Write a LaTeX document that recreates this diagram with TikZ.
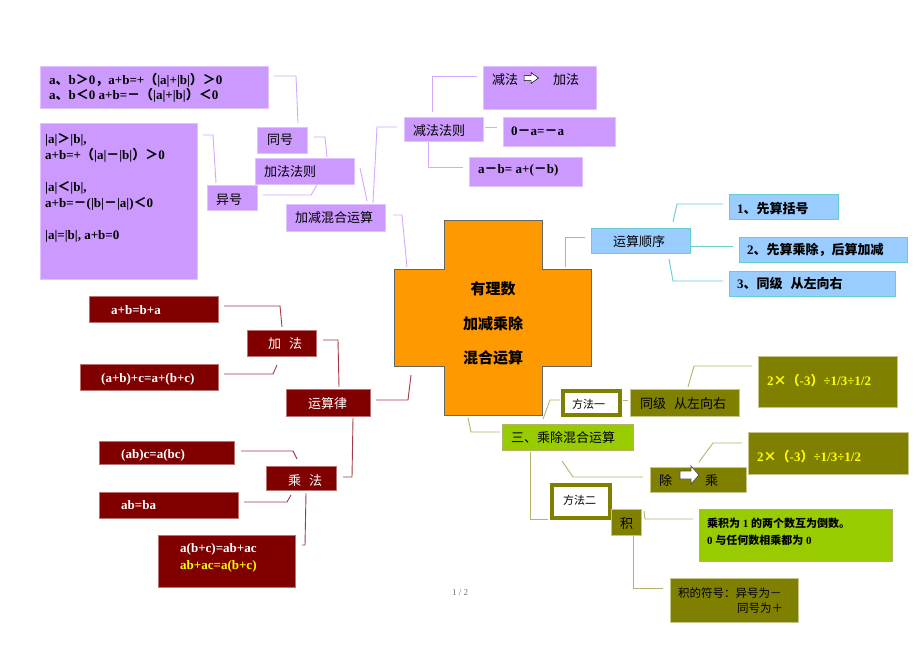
\documentclass[tikz,border=0pt]{standalone}
\usepackage{fontspec}
\setmainfont{Liberation Serif}
\newfontfamily\cjk{Noto Sans CJK SC}
\newcommand\zh[1]{{\cjk #1}}
\newcommand\fsz[1]{\fontsize{#1}{#1}\selectfont}
\usetikzlibrary{calc}
\definecolor{purp}{HTML}{CC99FF}
\definecolor{purpline}{HTML}{D4A8FF}
\definecolor{maroonc}{HTML}{800000}
\definecolor{maroonline}{HTML}{A33A45}
\definecolor{olivec}{HTML}{808000}
\definecolor{oliveline}{HTML}{B4B46A}
\definecolor{ygreen}{HTML}{99CC00}
\definecolor{lblue}{HTML}{99CCFF}
\definecolor{cyanline}{HTML}{66CCCC}
\definecolor{orangec}{HTML}{FF9900}
\definecolor{yellowt}{HTML}{FFFF00}
\newcommand\bx[6]{\node[#1, inner sep=0pt, outer sep=0pt, anchor=north west, minimum width={(#5-#3)*1pt}, minimum height={(#6-#4)*1pt}] (#2) at (#3,#4) {};}
\tikzset{
  t/.style={inner sep=0pt, anchor=base west},
  tc/.style={inner sep=0pt, anchor=base},
  pbox/.style={fill=purp, draw=purp!60!white, line width=0.8pt},
  mbox/.style={fill=maroonc, draw=maroonc!55!white, line width=0.8pt},
  obox/.style={fill=olivec, draw=olivec!45!white, line width=0.8pt},
  gbox/.style={fill=ygreen, draw=olivec!60!white, line width=0.8pt},
  bbox/.style={fill=lblue, draw=cyanline, line width=0.8pt},
  wbox/.style={fill=white, draw=olivec, line width=4pt},
  pl/.style={draw=purpline, line width=0.9pt},
  ml/.style={draw=maroonline, line width=0.9pt},
  cl/.style={draw=cyanline, line width=0.9pt},
  ol/.style={draw=oliveline, line width=0.9pt},
  lat/.style={font=\fsz{13}\bfseries},
  zhr/.style={font=\fsz{13}\cjk},
  zhb/.style={font=\fsz{13}\cjk\bfseries},
  wlat/.style={font=\fsz{13}\bfseries, text=white},
  wzh/.style={font=\fsz{13}\cjk, text=white},
}
\begin{document}
\begin{tikzpicture}[x=1pt,y=-1pt]
\useasboundingbox (0,0) rectangle (920,651);
\fill[white] (0,0) rectangle (920,651);

% ---------- boxes ----------
\bx{pbox}{b1}{40}{66}{268}{108}
\bx{pbox}{b2}{40}{123}{197}{279}
\bx{pbox}{tonghao}{257}{127}{307}{153}
\bx{pbox}{yihao}{207}{185}{257}{210}
\bx{pbox}{jiafa}{255}{158}{354}{184}
\bx{pbox}{jjhh}{286}{204}{385}{231}
\bx{pbox}{jfzz}{404}{117}{483}{141}
\bx{pbox}{jj2jf}{483}{66}{596}{109}
\bx{pbox}{zero}{503}{117}{615}{146}
\bx{pbox}{amb}{469}{157}{582}{186}
\bx{bbox}{order}{591}{228}{690}{253}
\bx{bbox}{o1}{729}{194}{838}{219}
\bx{bbox}{o2}{739}{237}{907}{262}
\bx{bbox}{o3}{729}{271}{895}{296}
\bx{mbox}{m1}{89}{296}{218}{322}
\bx{mbox}{jia}{247}{330}{316}{356}
\bx{mbox}{m2}{80}{364}{218}{390}
\bx{mbox}{ysl}{286}{389}{370}{416}
\bx{mbox}{cheng}{266}{466}{336}{490}
\bx{mbox}{m3}{99}{441}{234}{464}
\bx{mbox}{m4}{99}{492}{238}{518}
\bx{mbox}{m5}{158}{535}{295}{587}
\bx{wbox}{ff1}{563}{391}{620}{415}
\bx{obox}{tj}{630}{389}{739}{416}
\bx{obox}{e1}{758}{356}{897}{407}
\bx{gbox}{sc}{502}{424}{633}{450}
\bx{obox}{cc}{650}{467}{746}{492}
\bx{obox}{e2}{748}{432}{908}{474}
\bx{wbox}{ff2}{552}{485}{610}{518}
\bx{obox}{ji}{611}{509}{641}{535}
\bx{gbox}{gb}{699}{509}{892}{561}
\bx{obox}{jf}{670}{578}{798}{622}

% ---------- central cross ----------
\draw[fill=orangec, draw=black!60, line width=0.9pt] (444,220) -- (542,220) -- (542,269) -- (591,269) -- (591,366) -- (542,366) -- (542,415) -- (444,415) -- (444,366) -- (394,366) -- (394,269) -- (444,269) -- cycle;
\coordinate (core) at (493,317.5);
\node[tc, font=\fsz{15}\cjk\bfseries] (core1) at (493,294) {有理数};
\node[tc, font=\fsz{15}\cjk\bfseries] (core2) at (493,329) {加减乘除};
\node[tc, font=\fsz{15}\cjk\bfseries] (core3) at (493,363) {混合运算};

% ---------- connectors ----------
\draw[pl] ($(b1.north east)+(6,10)$) -- ++(22,0) -- ($(tonghao.north)+(16,-4)$);
\draw[pl] ($(b2.north east)+(6,12)$) -- ++(10,0) -- ($(yihao.north)+(-16,-2)$);
\draw[pl] ($(tonghao.east)+(7,-3)$) -- ++(11,0) -- ($(jiafa.north)+(22.5,-1)$);
\draw[pl] ($(yihao.east)+(6,-2.5)$) -- ++(48,0) -- ($(jiafa.south)+(12.5,1)$);
\draw[pl] ($(jiafa.east)+(6,-3)$) -- ($(jjhh.north)+(31.5,-3)$);
\draw[pl] ($(jfzz.west)+(-7,-2)$) -- ++(-20,0) -- ($(jjhh.north)+(37.5,-1)$);
\draw[pl] ($(jjhh.east)+(8,-2.5)$) -- ++(9,0) -- ($(core)+(-86,-50.5)$);
\draw[pl] ($(jfzz.north)+(-11.5,-5)$) |- ($(jj2jf.west)+(-6,-11.5)$);
\draw[pl] ($(jfzz.east)+(2,-2)$) -- ($(zero.west)+(-6,-4.5)$);
\draw[pl] ($(jfzz.south)+(-15.5,1)$) |- ($(amb.west)+(-6,-4.5)$);

\draw[cl] ($(core)+(72,-50.5)$) |- ($(order.west)+(-6,-3.5)$);
\draw[cl] ($(order.north east)+(-17,-6)$) -- ++(4,-18) -- ($(o1.west)+(-6,-2.5)$);
\draw[cl] ($(order.east)+(0,5.5)$) -- ($(o2.west)+(-6,-3.5)$);
\draw[cl] ($(order.south east)+(-21,6)$) -- ++(4,22) -- ($(o3.west)+(-6,-2.5)$);

\draw[ml] ($(m1.east)+(6,-3)$) -- ++(56,0) -- ($(jia.north)+(0.5,-3)$);
\draw[ml] ($(m2.east)+(6,-3)$) -- ++(49,0) -- ($(jia.south)+(-4.5,9)$);
\draw[ml] ($(jia.east)+(7,-3)$) -- ++(15,0) -- ($(ysl.north)+(11,-2)$);
\draw[ml] ($(ysl.east)+(6,-2.5)$) -- ++(32,0) -- ($(core)+(-82,57.5)$);
\draw[ml] ($(ysl.south)+(25,2)$) -- ++(-1,59) -- ($(cheng.east)+(7,-1)$);
\draw[ml] ($(m3.east)+(7,-1.5)$) -- ++(52,0) -- ($(cheng.north)+(-4,-7)$);
\draw[ml] ($(m4.east)+(6,-3)$) -- ++(43,0) -- ($(cheng.south)+(-10,5)$);
\draw[ml] ($(cheng.south)+(5,3)$) -- ++(-1,52) -- ($(m5.east)+(7,-16)$);

\draw[ol] ($(core)+(-25,100.5)$) -- ++(3,14) -- ($(sc.west)+(-2,-5)$);
\draw[ol] ($(sc.north)+(-24.5,-5)$) -- ++(7,-19) -- ($(ff1.west)+(-3,-3)$);
\draw[ol] ($(ff1.east)+(3,-3)$) -- ($(tj.west)+(-2,-2.5)$);
\draw[ol] ($(tj.north)+(3.5,-2)$) -- ++(6,-21) -- ($(e1.west)+(-6,-15.5)$);
\draw[ol] ($(sc.south)+(-5.5,11)$) -- ++(11,16) -- ($(cc.west)+(-7,-2.5)$);
\draw[ol] ($(cc.north)+(1,-5)$) -- ++(14,-19) -- ($(e2.west)+(-6,-10)$);
\draw[ol] ($(sc.south)+(-37.5,2)$) |- ($(ff2.west)+(-4,17.5)$);
\draw[ol] ($(ji.east)+(3,-11)$) -- ++(1,8) -- ($(gb.west)+(-6,-16)$);
\draw[ol] ($(ji.south)+(7,1)$) |- ($(jf.west)+(-7,-12)$);

% ---------- arrows inside boxes ----------
\draw[fill=white, draw=black, line width=0.5pt] (524,75.5) -- (531,75.5) -- (531,72.5) -- (538.5,78) -- (531,83.5) -- (531,80.5) -- (524,80.5) -- cycle;
\draw[fill=white, draw=black!70, line width=0.7pt] (680,471) -- (691,471) -- (691,466) -- (699,475) -- (691,484) -- (691,479) -- (680,479) -- cycle;

% ---------- texts ----------
\node[t, lat] (t1a) at (49,84) {a\zh{、}b\zh{＞}0\zh{，}a+b=+\zh{（}|a|+|b|\zh{）＞}0};
\node[t, lat] (t1b) at (49,99) {a\zh{、}b\zh{＜}0 a+b=\zh{－（}|a|+|b|\zh{）＜}0};
\node[t, lat] (t2a) at (45,143) {|a|\zh{＞}|b|,};
\node[t, lat] (t2b) at (45,159) {a+b=+\zh{（}|a|\zh{－}|b|\zh{）＞}0};
\node[t, lat] (t2c) at (45,191) {|a|\zh{＜}|b|,};
\node[t, lat] (t2d) at (45,207) {a+b=\zh{－}(|b|\zh{－}|a|)\zh{＜}0};
\node[t, lat] (t2e) at (45,239) {|a|=|b|, a+b=0};
\node[t, zhr] (t3) at (267,144) {同号};
\node[t, zhr] (t4) at (216,204) {异号};
\node[t, zhr] (t5) at (264,176) {加法法则};
\node[t, zhr] (t6) at (295,222) {加减混合运算};
\node[t, zhr] (t7) at (413,135) {减法法则};
\node[t, zhr] (t8a) at (492,84) {减法};
\node[t, zhr] (t8b) at (553,84) {加法};
\node[t, lat] (t9) at (511,135) {0\zh{－}a=\zh{－}a};
\node[t, lat] (t10) at (478,173) {a\zh{－}b= a+(\zh{－}b)};
\node[t, zhr] (t11) at (613,246) {运算顺序};
\node[t, lat] (t12) at (737,213) {1\zh{、先算括号}};
\node[t, lat] (t13) at (747,254) {2\zh{、先算乘除，后算加减}};
\node[t, lat] (t14) at (737,288) {3\zh{、同级}\hspace{8pt}\zh{从左向右}};
\node[t, wlat] (t15) at (111,314) {a+b=b+a};
\node[t, wzh] (t16) at (268,348) {加\hspace{8pt}法};
\node[t, wlat] (t17) at (101,382) {(a+b)+c=a+(b+c)};
\node[t, wzh] (t18) at (308,408) {运算律};
\node[t, wzh] (t19) at (288,485) {乘\hspace{8pt}法};
\node[t, wlat] (t20) at (121,458) {(ab)c=a(bc)};
\node[t, wlat] (t21) at (121,509) {ab=ba};
\node[t, wlat] (t22) at (180,552) {a(b+c)=ab+ac};
\node[t, lat, text=yellowt] (t23) at (180,569) {ab+ac=a(b+c)};
\node[t, font=\fsz{11}\cjk] (t24) at (572,408) {方法一};
\node[t, zhr] (t25) at (640,408) {同级\hspace{8pt}从左向右};
\node[t, lat, text=yellowt] (t26) at (767,385) {2\zh{×（}-3\zh{）}÷1/3÷1/2};
\node[t, zhr] (t27) at (511,442) {三、乘除混合运算};
\node[t, zhr] (t28a) at (659,485) {除};
\node[t, zhr] (t28b) at (705,485) {乘};
\node[t, lat, text=yellowt] (t29) at (757,461) {2\zh{×（}-3\zh{）}÷1/3÷1/2};
\node[t, font=\fsz{11}\cjk] (t30) at (563,504) {方法二};
\node[t, zhr] (t31) at (620,528) {积};
\node[t, font=\fsz{11}\bfseries] (t32) at (707,527) {\zh{乘积为} 1 \zh{的两个数互为倒数。}};
\node[t, font=\fsz{11}\bfseries] (t33) at (707,544) {0 \zh{与任何数相乘都为} 0};
\node[t, font=\fsz{11.5}\cjk] (t34) at (678,597) {积的符号：异号为－};
\node[t, font=\fsz{11.5}\cjk] (t35) at (737,612) {同号为＋};
\node[tc, font=\fsz{9}, text=black!55] (pg) at (460,595) {1 / 2};
\end{tikzpicture}
\end{document}
